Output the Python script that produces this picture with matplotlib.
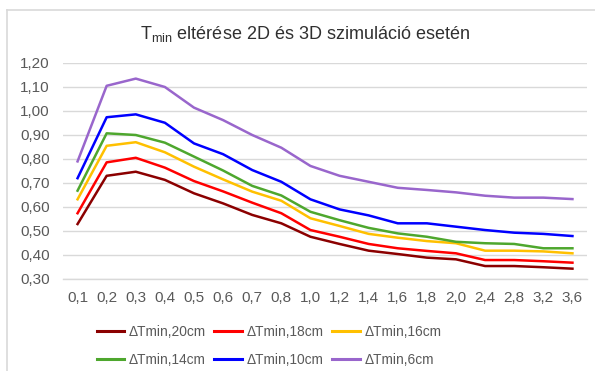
import matplotlib
matplotlib.use("Agg")
import matplotlib.pyplot as plt
from matplotlib.lines import Line2D

plt.rcParams["font.family"] = ["Liberation Sans", "DejaVu Sans"]
plt.rcParams["mathtext.default"] = "regular"

distances = ["0,1", "0,2", "0,3", "0,4", "0,5", "0,6", "0,7", "0,8", "1,0",
             "1,2", "1,4", "1,6", "1,8", "2,0", "2,4", "2,8", "3,2", "3,6"]

dt_20cm = [0.529, 0.730, 0.747, 0.713, 0.657, 0.615, 0.567, 0.532, 0.476,
           0.446, 0.418, 0.404, 0.389, 0.382, 0.354, 0.354, 0.349, 0.343]
dt_18cm = [0.574, 0.786, 0.805, 0.764, 0.708, 0.665, 0.618, 0.574, 0.504,
           0.476, 0.446, 0.428, 0.417, 0.407, 0.379, 0.379, 0.374, 0.368]
dt_16cm = [0.632, 0.855, 0.870, 0.828, 0.768, 0.715, 0.664, 0.626, 0.553,
           0.521, 0.488, 0.472, 0.458, 0.449, 0.418, 0.418, 0.415, 0.407]
dt_14cm = [0.668, 0.907, 0.900, 0.868, 0.810, 0.752, 0.688, 0.648, 0.580,
           0.545, 0.513, 0.490, 0.476, 0.455, 0.449, 0.446, 0.428, 0.428]
dt_10cm = [0.720, 0.974, 0.986, 0.951, 0.865, 0.820, 0.754, 0.705, 0.632,
           0.590, 0.565, 0.532, 0.532, 0.518, 0.504, 0.493, 0.488, 0.479]
dt_6cm = [0.790, 1.105, 1.135, 1.100, 1.014, 0.962, 0.900, 0.847, 0.771,
          0.730, 0.705, 0.680, 0.671, 0.661, 0.647, 0.639, 0.639, 0.633]

series = [
    ("\u0394Tmin,20cm", dt_20cm, "#8B0000"),
    ("\u0394Tmin,18cm", dt_18cm, "#FF0000"),
    ("\u0394Tmin,16cm", dt_16cm, "#FFC000"),
    ("\u0394Tmin,14cm", dt_14cm, "#4EA72E"),
    ("\u0394Tmin,10cm", dt_10cm, "#0000FF"),
    ("\u0394Tmin,6cm", dt_6cm, "#9966CC"),
]

text_color = "#595959"
grid_color = "#D9D9D9"

fig = plt.figure(figsize=(5.95, 3.71), dpi=100)
ax = fig.add_axes([63 / 595, 1 - 279 / 371, 524 / 595, 216 / 371])

x = list(range(len(distances)))
for label, values, color in series:
    ax.plot(x, values, color=color, linewidth=1.8, label=label,
            solid_joinstyle="round", zorder=3)

ax.set_xlim(-0.5, len(distances) - 0.5)
ax.set_ylim(0.30, 1.20)
ax.set_yticks([0.30 + 0.1 * i for i in range(10)])
ax.set_yticklabels([f"{0.30 + 0.1 * i:.2f}".replace(".", ",") for i in range(10)])
ax.set_xticks(x)
ax.set_xticklabels(distances)
ax.tick_params(axis="both", length=0, labelsize=11, colors=text_color)
ax.tick_params(axis="x", pad=8.5)
ax.tick_params(axis="y", pad=9.5)
ax.grid(axis="y", color=grid_color, linewidth=1.0, zorder=0)
for side in ["left", "right", "top"]:
    ax.spines[side].set_visible(False)
ax.spines["bottom"].set_color(grid_color)
ax.spines["bottom"].set_linewidth(1.0)

fig.text(305 / 595, 1 - 34 / 371, "T$_{min}$ eltérése 2D és 3D szimuláció esetén",
         ha="center", va="center", fontsize=13, color="#303030")

# legend fills column by column, so interleave to get row order
order = [0, 3, 1, 4, 2, 5]
handles = [Line2D([], [], color=series[i][2], linewidth=2.2) for i in order]
labels = [series[i][0] for i in order]
fig.legend(handles, labels, ncol=3, loc="center", bbox_to_anchor=(269 / 595, 1 - 346 / 371),
           frameon=False, fontsize=9.9, handlelength=2.0, handletextpad=0.36,
           columnspacing=0.6, labelspacing=1.0, labelcolor=text_color)

# light frame around the chart area
fig.add_artist(Line2D([7 / 595, 1.0], [1 - 10 / 371, 1 - 10 / 371],
                      transform=fig.transFigure, color=grid_color, linewidth=1.2))
fig.add_artist(Line2D([7 / 595, 7 / 595], [0.0, 1 - 10 / 371],
                      transform=fig.transFigure, color=grid_color, linewidth=1.2))

fig.savefig("out.png", dpi=100)
